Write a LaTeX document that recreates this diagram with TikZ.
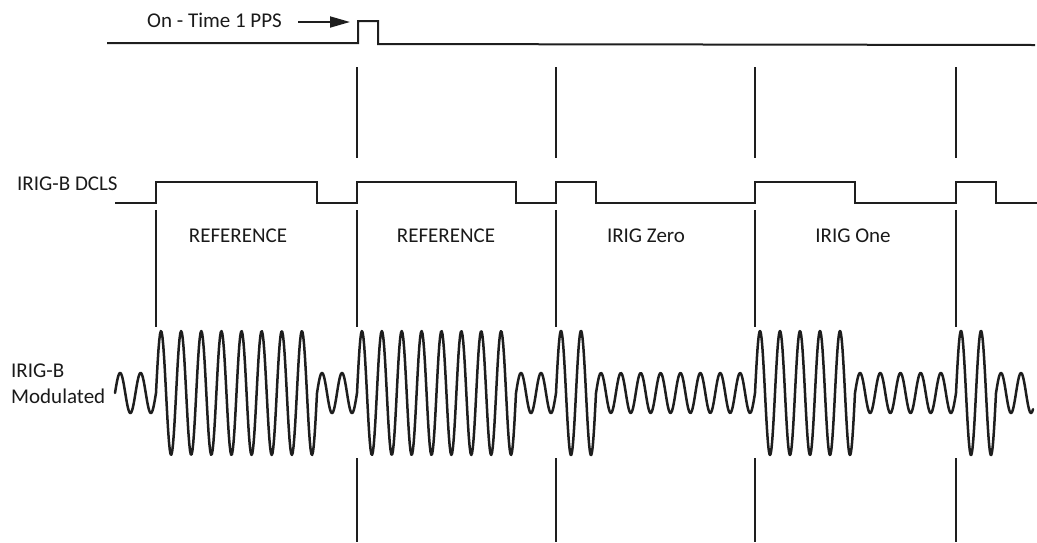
\documentclass[tikz,border=0pt]{standalone}
\usepackage{fontspec}
\setmainfont{Carlito}
\usetikzlibrary{arrows.meta}
\definecolor{ink}{HTML}{1E1E1E}
\definecolor{txt}{HTML}{1A1A1A}
\tikzset{
  sig/.style={draw=ink, line width=2pt, line join=miter},
  wave/.style={draw=ink, line width=2.5pt, line cap=round, line join=round},
  tick/.style={draw=ink, line width=1.6pt},
  lbl/.style={inner sep=0pt, text=txt, font=\fontsize{21}{25}\selectfont},
}
\begin{document}
\begin{tikzpicture}[x=1pt, y=-1pt]
\useasboundingbox (0,0) rectangle (1037,542);

% labels
\node[lbl, anchor=base west] (pps) at (147,27) {On - Time 1 PPS};
\node[lbl, anchor=base west] (dcls) at (17,190) {IRIG-B DCLS};
\node[lbl, anchor=base west] (modA) at (11,377) {IRIG-B};
\node[lbl, anchor=base west] (modB) at (11,403) {Modulated};
\node[lbl, anchor=base] (ref1) at (238,242) {REFERENCE};
\node[lbl, anchor=base] (ref2) at (446,242) {REFERENCE};
\node[lbl, anchor=base] (zero) at (646,242) {IRIG Zero};
\node[lbl, anchor=base] (one) at (853,242) {IRIG One};

% arrow to PPS pulse
\coordinate (arrS) at (298,22);
\coordinate (arrE) at (350,22);
\draw[ink, line width=1.8pt, -{Triangle[length=20pt,width=11pt]}] (arrS) -- (arrE);

% PPS line
\draw[sig] (107,43) -- (358,43) -- (358,21) -- (378,21) -- (378,44) -- (1035,45);

% DCLS
\draw[sig] (115,203) -- (156,203) -- (156,182) -- (317,182) -- (317,203)
  -- (357,203) -- (357,182) -- (516,182) -- (516,203)
  -- (556,203) -- (556,182) -- (596,182) -- (596,203)
  -- (755,203) -- (755,182) -- (855,182) -- (855,203)
  -- (956,203) -- (956,182) -- (996,182) -- (996,203) -- (1037,203);

% vertical markers
\draw[tick] (156,210) -- (156,327);
\foreach \xx in {357,556,755,956}{
  \draw[tick] (\xx,67) -- (\xx,158);
  \draw[tick] (\xx,210) -- (\xx,327);
  \draw[tick] (\xx,458) -- (\xx,542);
}

% modulated waveform
\foreach \a/\b/\A/\n in {115/156/20/2, 156/317/62/8, 317/357/20/2,
  357/516/62/8, 516/556/20/2, 556/596/62/2, 596/755/20/8,
  755/855/62/5, 855/956/20/5, 956/996/62/2}{
  \draw[wave] plot[domain=\a:\b, samples=200] (\x,{393-\A*sin(360*\n/(\b-\a)*(\x-\a))});
}
\draw[wave] plot[domain=996:1033, samples=80] (\x,{393-20*sin(18*(\x-996))});
\end{tikzpicture}
\end{document}
